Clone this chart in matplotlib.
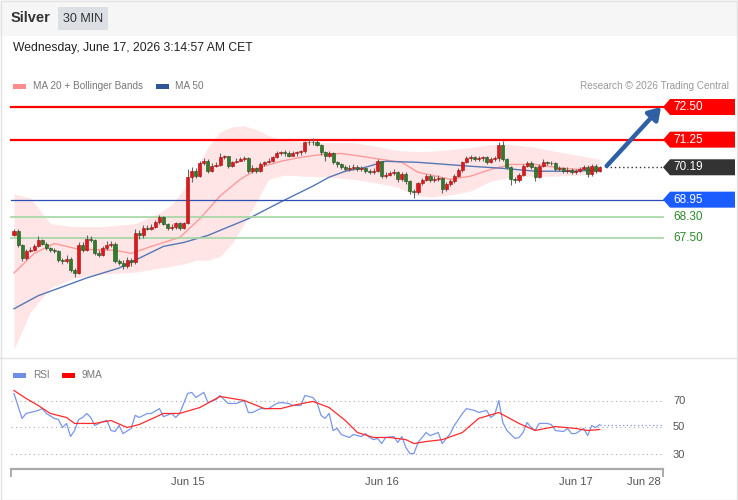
import numpy as np
import matplotlib
matplotlib.use('Agg')
import matplotlib.pyplot as plt
from matplotlib.patches import Rectangle, Polygon

plt.rcParams['font.family'] = ['Liberation Sans', 'DejaVu Sans']

# --- 30 min candles, bar 0 = first visible bar (Fri afternoon) ---
first_open = 67.58
closes = [67.73, 67.20, 66.70, 66.97, 67.01, 67.16, 67.39, 67.27, 67.08, 67.01,
          66.97, 66.63, 66.59, 66.67, 66.25, 66.14, 67.20, 67.01, 67.46, 67.39,
          66.89, 66.82, 67.08, 67.20, 67.24, 66.59, 66.52, 66.40, 66.63, 66.55,
          67.69, 67.58, 67.88, 67.84, 67.92, 68.11, 68.30, 68.03, 67.88, 67.92,
          68.07, 67.88, 68.07, 69.81, 70.04, 69.85, 70.34, 70.42, 70.04, 70.23,
          70.27, 70.57, 70.61, 70.23, 70.38, 70.45, 70.49, 70.53, 70.04, 70.15,
          70.04, 70.30, 70.38, 70.42, 70.57, 70.72, 70.76, 70.72, 70.64, 70.72,
          70.76, 70.80, 71.14, 71.17, 71.14, 71.06, 70.76, 70.64, 70.72, 70.38,
          70.30, 70.19, 70.11, 70.15, 70.19, 70.11, 70.15, 70.04, 70.00, 70.04,
          70.42, 69.85, 69.89, 69.96, 70.00, 69.73, 69.92, 69.66, 69.28, 69.24,
          69.58, 69.70, 69.85, 69.70, 69.73, 69.77, 69.36, 69.55, 69.66, 69.85,
          70.08, 70.38, 70.53, 70.57, 70.49, 70.53, 70.57, 70.38, 70.49, 70.53,
          71.06, 70.49, 70.19, 69.73, 69.70, 69.89, 70.23, 70.34, 70.19, 69.81,
          70.23, 70.38, 70.34, 70.36, 70.11, 70.15, 70.04, 70.08, 70.00, 70.04,
          70.11, 70.19, 69.92, 70.23, 70.04, 70.19]
highs = [67.84, 67.84, 67.24, 67.05, 67.12, 67.24, 67.54, 67.46, 67.31, 67.12,
         67.08, 67.01, 66.70, 66.82, 66.74, 66.33, 67.31, 67.31, 67.58, 67.54,
         67.46, 67.01, 67.16, 67.35, 67.35, 67.31, 66.67, 66.63, 66.74, 66.70,
         67.84, 67.77, 67.96, 67.96, 68.00, 68.18, 68.37, 68.33, 68.07, 68.00,
         68.11, 68.11, 68.11, 70.11, 70.19, 70.15, 70.42, 70.53, 70.49, 70.34,
         70.38, 70.72, 70.68, 70.64, 70.45, 70.53, 70.57, 70.61, 70.57, 70.26,
         70.19, 70.38, 70.45, 70.53, 70.64, 70.80, 70.83, 70.87, 70.80, 70.80,
         70.83, 70.87, 71.21, 71.29, 71.32, 71.25, 71.10, 70.80, 70.80, 70.76,
         70.45, 70.34, 70.26, 70.26, 70.30, 70.26, 70.23, 70.19, 70.11, 70.15,
         70.49, 70.45, 70.00, 70.04, 70.11, 70.04, 70.00, 70.00, 69.70, 69.36,
         69.62, 69.77, 69.92, 69.92, 69.85, 69.89, 69.81, 69.62, 69.73, 69.92,
         70.15, 70.45, 70.64, 70.68, 70.61, 70.61, 70.64, 70.61, 70.57, 70.61,
         71.14, 71.21, 70.53, 70.23, 69.81, 69.96, 70.30, 70.45, 70.42, 70.23,
         70.30, 70.49, 70.45, 70.45, 70.38, 70.23, 70.19, 70.19, 70.15, 70.11,
         70.19, 70.26, 70.26, 70.30, 70.30, 70.23]
lows = [67.54, 67.12, 66.59, 66.63, 66.93, 66.97, 67.12, 67.20, 67.01, 66.93,
        66.89, 66.55, 66.48, 66.52, 66.17, 65.99, 66.10, 66.93, 66.97, 67.31,
        66.82, 66.74, 66.78, 67.01, 67.12, 66.52, 66.44, 66.29, 66.33, 66.40,
        66.48, 67.46, 67.50, 67.77, 67.77, 67.88, 68.03, 67.96, 67.77, 67.80,
        67.84, 67.80, 67.84, 68.03, 69.62, 69.77, 69.81, 70.26, 69.96, 70.00,
        70.19, 70.23, 70.49, 70.15, 70.19, 70.34, 70.42, 70.45, 69.96, 69.96,
        69.96, 70.00, 70.23, 70.34, 70.38, 70.53, 70.68, 70.64, 70.57, 70.61,
        70.64, 70.68, 70.72, 71.06, 71.06, 70.99, 70.68, 70.45, 70.57, 70.30,
        70.19, 70.11, 70.04, 70.04, 70.08, 70.04, 70.04, 69.96, 69.92, 69.92,
        70.00, 69.77, 69.77, 69.85, 69.89, 69.62, 69.66, 69.55, 69.17, 69.02,
        69.17, 69.51, 69.66, 69.62, 69.62, 69.66, 69.21, 69.28, 69.47, 69.58,
        69.81, 70.00, 70.34, 70.45, 70.42, 70.42, 70.45, 70.30, 70.34, 70.42,
        70.45, 70.42, 70.11, 69.51, 69.58, 69.62, 69.85, 70.19, 70.11, 69.66,
        69.77, 70.19, 70.26, 70.26, 70.04, 70.04, 69.96, 69.96, 69.92, 69.92,
        70.00, 70.08, 69.81, 69.85, 69.96, 70.00]

# MA 20 + Bollinger bands
bb_bar = [0, 4, 9, 15, 22, 30, 36, 39, 42, 45, 48, 51, 54, 57, 60, 63,
          67, 72, 78, 84, 90, 95, 99, 103, 108, 113, 118, 123, 128, 134, 140, 145]
bb_upper = [69.17, 69.02, 68.03, 67.92, 67.92, 68.03, 68.45, 68.75, 69.36, 70.11,
            70.95, 71.55, 71.74, 71.78, 71.63, 71.40, 71.21, 71.14, 71.14, 71.14,
            70.98, 70.83, 70.80, 70.80, 70.87, 70.95, 71.06, 71.06, 70.98, 70.80,
            70.64, 70.49]
bb_lower = [63.22, 64.62, 65.57, 65.95, 66.10, 66.17, 66.33, 66.40, 66.48, 66.63,
            66.63, 66.78, 67.27, 68.03, 68.86, 69.73, 69.89, 69.85, 69.81, 69.73,
            69.58, 69.43, 69.13, 69.05, 69.13, 69.28, 69.66, 69.81, 69.85, 69.85,
            69.89, 70.00]
ma20_bar = [0, 5, 10, 16, 25, 29, 34, 41, 46, 51, 56, 61, 66, 71, 76, 81,
            86, 91, 96, 100, 108, 113, 118, 123, 129, 134, 139, 145]
ma20 = [66.14, 66.89, 67.27, 67.05, 67.01, 66.89, 67.16, 67.50, 68.22, 69.09,
        69.73, 70.19, 70.42, 70.57, 70.68, 70.72, 70.61, 70.49, 70.38, 70.00,
        69.73, 69.85, 70.11, 70.30, 70.30, 70.19, 70.11, 70.15]
ma50_bar = [0, 6, 18, 26, 37, 42, 48, 58, 66, 74, 78, 82, 87, 92, 100, 113,
            121, 129, 138, 145]
ma50 = [64.77, 65.27, 65.95, 66.33, 67.16, 67.31, 67.58, 68.22, 68.86, 69.47,
        69.81, 70.04, 70.19, 70.42, 70.38, 70.23, 70.15, 70.04, 70.04, 70.08]

resistances = [72.50, 71.25]
last_price = 70.19
pivot = 68.95
supports = [68.30, 67.50]

# RSI and its 9 period MA
rsi_bar = [0, 2, 3, 6, 7, 8, 10, 11, 12, 13, 14, 15, 16, 17, 18, 19, 20, 22, 23, 24,
           25, 26, 27, 29, 30, 31, 33, 34, 36, 37, 39, 40, 41, 43, 44, 45, 47, 48, 50, 51,
           53, 55, 57, 58, 59, 61, 63, 65, 66, 68, 69, 71, 72, 74, 75, 76, 77, 78, 79, 80,
           81, 83, 84, 86, 87, 88, 89, 90, 91, 92, 94, 95, 96, 97, 98, 99, 100, 102, 103, 105,
           106, 108, 109, 111, 112, 114, 115, 117, 118, 119, 120, 121, 122, 124, 125, 126, 127, 128, 129, 130,
           132, 133, 134, 136, 137, 138, 139, 141, 142, 143, 144, 145]
rsi_val = [75.2, 56.7, 60.4, 62.6, 64.0, 60.4, 56.7, 55.9, 50.0, 53.0,
           43.3, 47.8, 55.9, 57.4, 60.4, 57.4, 51.5, 54.4, 55.2, 47.8,
           47.0, 51.5, 45.5, 49.3, 59.0, 57.4, 60.4, 60.4, 64.0, 58.0,
           60.4, 57.4, 60.4, 75.2, 76.0, 72.2, 76.0, 68.5, 70.7, 73.7,
           67.8, 67.8, 70.0, 61.1, 61.1, 64.0, 64.0, 67.8, 68.5, 67.8,
           66.3, 66.3, 73.7, 72.2, 68.5, 59.0, 56.7, 60.4, 47.8, 49.3,
           44.8, 42.6, 44.8, 43.3, 45.5, 42.6, 41.0, 41.9, 38.1, 42.6,
           43.3, 38.9, 43.3, 35.2, 30.7, 30.7, 38.9, 46.3, 44.0, 46.3,
           38.1, 45.5, 51.5, 60.4, 64.0, 62.6, 61.1, 62.6, 57.4, 59.6,
           70.0, 53.7, 47.8, 41.9, 42.6, 46.3, 53.7, 50.0, 47.8, 53.0,
           53.0, 52.2, 47.8, 47.0, 49.3, 45.5, 45.5, 49.3, 44.0, 51.5,
           50.0, 52.2]
ma9_bar = [0, 3, 6, 9, 13, 15, 20, 24, 28, 31, 37, 41, 46, 51, 57, 62, 66, 70, 74,
           78, 82, 85, 89, 93, 97, 99, 102, 106, 111, 115, 120, 125, 129, 134, 139, 142, 145]
ma9_val = [77.4, 71.5, 66.3, 60.4, 57.4, 53.0, 53.0, 55.2, 50.0, 52.2,
           60.4, 60.4, 64.8, 73.0, 70.0, 64.0, 64.0, 67.0, 69.3, 64.8,
           55.2, 46.3, 42.6, 42.6, 41.0, 38.1, 39.6, 41.0, 46.3, 56.7,
           61.1, 53.0, 47.8, 50.7, 49.3, 47.8, 48.5]
rsi_levels = [70, 50, 30]

date_ticks = [43, 91, 139, 156]
date_labels = ['Jun 15', 'Jun 16', 'Jun 17', 'Jun 28']

# --- pixel layout helpers (figure is 738 x 500 px) ---
W, H = 738, 500
X0, PX_BAR = 14, 4.04          # bar 0 sits at x=14px, 4.04 px per bar
Y_REF, P_REF, PX_USD = 107, 72.5, 26.1


def bx(px):
    return (px - X0) / PX_BAR


def py(px):
    return P_REF - (px - Y_REF) / PX_USD


def rv(px):
    return 50 - (px - 427.5) / 1.35


def ftext(xp, yp, s, **kw):
    fig.text(xp / W, 1 - yp / H, s, **kw)


def frect(x, y, w, h, color):
    fig.patches.append(Rectangle((x / W, 1 - (y + h) / H), w / W, h / H,
                                 transform=fig.transFigure, color=color, lw=0))


fig = plt.figure(figsize=(W / 100, H / 100), dpi=100)
fig.patch.set_facecolor('white')

# header
frect(0, 0, W, 36, '#f6f6f6')
frect(58, 7, 50, 23, '#dcdfe4')
ftext(11, 18, 'Silver', fontsize=10.5, fontweight='bold', color='#333333', va='center')
ftext(83, 18.5, '30 MIN', fontsize=9, color='#333333', va='center', ha='center')
ftext(13, 48, 'Wednesday, June 17, 2026 3:14:57 AM CET', fontsize=8.7, color='#222222', va='center')

# legends
frect(13, 84, 13, 5, '#ff8c8c')
ftext(33, 86, 'MA 20 + Bollinger Bands', fontsize=7.2, color='#777777', va='center')
frect(156, 84, 13, 5, '#2f5597')
ftext(175, 86, 'MA 50', fontsize=7.2, color='#777777', va='center')
ftext(729, 86, 'Research \u00a9 2026 Trading Central', fontsize=7.2, color='#999999',
      va='center', ha='right')
frect(13, 373, 13, 5, '#6f8fe6')
ftext(33, 375, 'RSI', fontsize=7.2, color='#777777', va='center')
frect(62, 373, 13, 5, '#ff0000')
ftext(82, 375, '9MA', fontsize=7.2, color='#777777', va='center')

# frame and panel separator
fig.lines.append(plt.Line2D([0, 1], [1 - 358 / H] * 2, transform=fig.transFigure,
                            color='#e4e4e4', lw=1))
fig.patches.append(Rectangle((0.0007, 0.001), 0.998, 0.998, transform=fig.transFigure,
                             fill=False, ec='#e2e2e2', lw=1))

# ---------------- price panel ----------------
ax = fig.add_axes([0, 1 - 358 / H, 1, 322 / H])
ax.set_xlim(bx(0), bx(W))
ax.set_ylim(py(358), py(36))
ax.axis('off')

ax.fill_between(bb_bar, bb_lower, bb_upper, color='#ffe5e5', lw=0, zorder=1)
ax.plot(ma20_bar, ma20, color='#ff9a9a', lw=1, zorder=2)
ax.plot(ma50_bar, ma50, color='#5577b5', lw=1, zorder=2)

xl, xr = bx(11), bx(663)
for r in resistances:
    ax.plot([xl, xr], [r, r], color='#ff0000', lw=1.6, zorder=3)
ax.plot([xl, xr], [pivot, pivot], color='#2a4fb5', lw=0.9, zorder=3)
for s in supports:
    ax.plot([xl, xr], [s, s], color='#a3d6a3', lw=1.2, zorder=3)

n = len(closes)
bars = np.arange(n)
opens = np.array([first_open] + closes[:-1])
c = np.array(closes)
up = c >= opens
ax.vlines(bars, lows, highs, color='#666666', lw=0.8, zorder=4)
body_h = np.maximum(np.abs(c - opens), 0.03)
body_b = np.minimum(c, opens)
ax.bar(bars[up], body_h[up], bottom=body_b[up], width=0.75, color='#e5161b',
       edgecolor='#9a1010', lw=0.4, zorder=5)
ax.bar(bars[~up], body_h[~up], bottom=body_b[~up], width=0.75, color='#2f7d2a',
       edgecolor='#1c4d19', lw=0.4, zorder=5)

# current price dotted line and forecast arrow
ax.plot([n + 0.5, xr], [last_price, last_price], color='#333333', lw=1,
        ls=(0, (1, 2)), zorder=3)
ax.annotate('', xy=(bx(661), resistances[0]), xytext=(n + 0.7, last_price + 0.05),
            arrowprops=dict(arrowstyle='-|>,head_length=0.7,head_width=0.45',
                            color='#2f5fa5', lw=3.2, shrinkA=0, shrinkB=0),
            zorder=6)


def tag(price, fc, tc='white'):
    hh = 8 / PX_USD
    if fc is not None:
        pts = [(bx(663), price), (bx(670), price + hh), (bx(735), price + hh),
               (bx(735), price - hh), (bx(670), price - hh)]
        ax.add_patch(Polygon(pts, closed=True, fc=fc, ec='none', clip_on=False, zorder=7))
    ax.text(bx(673), price, f'{price:.2f}', color=tc, fontsize=8.5, va='center',
            ha='left', zorder=8, clip_on=False)


for r in resistances:
    tag(r, '#ff0000')
tag(last_price, '#333333')
tag(pivot, '#1a5cff')
for s in supports:
    tag(s, None, '#2a8a2a')

# ---------------- RSI panel ----------------
axr = fig.add_axes([0, 1 - 470 / H, 1, 110 / H])
axr.set_xlim(bx(0), bx(W))
axr.set_ylim(rv(470), rv(360))
axr.axis('off')

for lv in rsi_levels:
    axr.plot([xl, xr], [lv, lv], color='#aaaaaa', lw=0.8, ls=(0, (1, 3)))
    axr.text(bx(673), lv, str(lv), fontsize=8, color='#555555', va='center', ha='left')
axr.plot(rsi_bar, rsi_val, color='#7a96ea', lw=0.9, zorder=3)
axr.plot(ma9_bar, ma9_val, color='#ff2a2a', lw=0.9, zorder=4)
axr.plot([rsi_bar[-1], xr], [rsi_val[-1], rsi_val[-1]], color='#7a96ea', lw=0.9,
         ls=(0, (1, 2)), zorder=3)

# time axis
y_ax = rv(469.5)
axr.plot([xl, xr], [y_ax, y_ax], color='#aaaaaa', lw=1.6, clip_on=False)
for xe in (xl, xr):
    axr.plot([xe, xe], [y_ax, rv(476)], color='#aaaaaa', lw=1.4, clip_on=False)
for t, lab in zip(date_ticks, date_labels):
    axr.text(t, rv(482), lab, fontsize=8, color='#555555', ha='center', va='center',
             clip_on=False)

fig.savefig('out.png', dpi=100)
